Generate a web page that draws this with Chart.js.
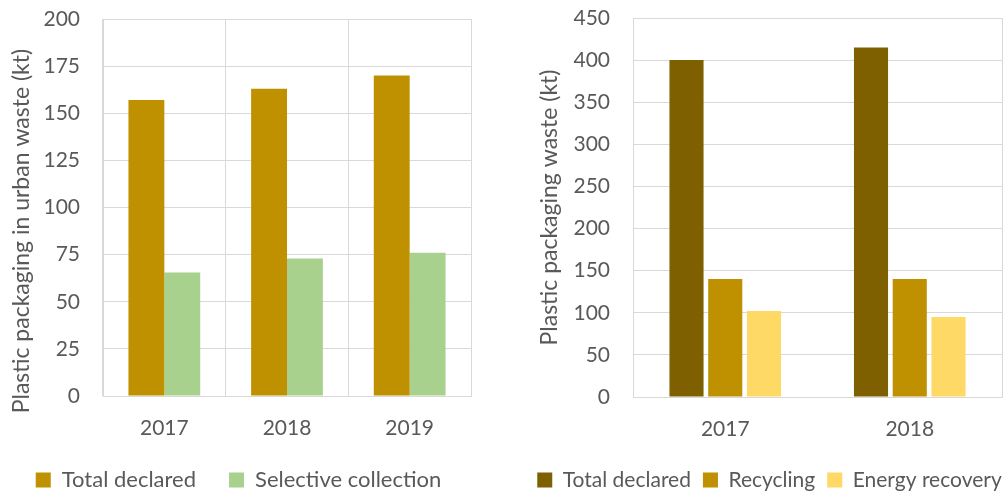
<!DOCTYPE html>
<html>
<head>
<meta charset="utf-8">
<script src="https://cdn.jsdelivr.net/npm/chart.js@4"></script>
<style>
  html, body { margin:0; padding:0; background:#fff; overflow:hidden; }
  #wrap { position:relative; width:1006px; height:500px; overflow:hidden; }
  .box { position:absolute; top:0; height:500px; }
  #left { left:0; width:477px; }
  #right { left:500px; width:530px; }
</style>
</head>
<body>
<div id="wrap">
  <div class="box" id="left"><canvas id="chart-urban"></canvas></div>
  <div class="box" id="right"><canvas id="chart-pkg"></canvas></div>
</div>
<script>
// ─── DATA ─────────────────────────────────────────────────────────────────────
const URBAN_YEARS     = ['2017', '2018', '2019'];
const URBAN_TOTAL     = [157, 163, 170];
const URBAN_SELECTIVE = [65.5, 73, 76];

const PKG_YEARS     = ['2017', '2018'];
const PKG_TOTAL     = [400, 415];
const PKG_RECYCLING = [140, 140];
const PKG_ENERGY    = [102, 95];

// ─── STYLE ────────────────────────────────────────────────────────────────────
const FONT = 'Lato, "Open Sans", sans-serif';
const TXT  = '#595959';
const GRID = '#d9d9d9';

// fixes the legend box height so item spacing and vertical spot are independent
const legendFit = {
  id: 'legendFit',
  beforeLayout(chart, args, opts) {
    const lg = chart.legend;
    if (!lg || lg._fitPatched) return;
    const orig = lg.fit;
    lg.fit = function() { orig.call(this); this.height = opts.height; };
    lg._fitPatched = true;
  }
};

function makeChart(id, cfg) {
  const ctx = document.getElementById(id).getContext('2d');
  return new Chart(ctx, {
    type: 'bar',
    data: { labels: cfg.labels, datasets: cfg.datasets },
    plugins: [legendFit],
    options: {
      responsive: true, maintainAspectRatio: false, animation: false,
      layout: { padding: cfg.padding },
      datasets: { bar: { categoryPercentage: cfg.catPct, barPercentage: cfg.barPct } },
      plugins: {
        legendFit: { height: cfg.legendH },
        tooltip: { enabled: false },
        legend: {
          position: 'bottom',
          labels: { boxWidth: 15, boxHeight: 15, padding: cfg.legendPad, color: TXT, font: { family: FONT, size: cfg.legendSize } }
        }
      },
      scales: {
        x: {
          grid: { display: cfg.xGrid, offset: true, drawTicks: false, color: GRID },
          border: { color: GRID },
          ticks: { color: TXT, padding: 20, font: { family: FONT, size: 21 } },
          afterFit: s => { s.height = cfg.xH; }
        },
        y: {
          min: 0, max: cfg.max,
          grid: { color: GRID, drawTicks: false },
          border: { color: GRID },
          ticks: { stepSize: cfg.step, color: TXT, padding: 23, font: { family: FONT, size: 21 } },
          title: { display: true, text: cfg.yTitle, color: TXT, padding: { top: cfg.titlePad, bottom: 0 }, font: { family: FONT, size: 23 } },
          afterFit: s => { s.width = cfg.yW; s.paddingTop = 0; s.paddingBottom = 0; }
        },
        // empty right axis: draws the right frame line and leaves room for the legend
        y2: {
          position: 'right',
          grid: { display: false, drawTicks: false },
          border: { display: true, color: GRID },
          ticks: { display: false },
          afterFit: s => { s.width = cfg.y2W; }
        }
      }
    }
  });
}

// ─── LEFT: urban waste ────────────────────────────────────────────────────────
makeChart('chart-urban', {
  labels: URBAN_YEARS,
  datasets: [
    { label: 'Total declared',       data: URBAN_TOTAL,     backgroundColor: '#bf9000' },
    { label: 'Selective collection', data: URBAN_SELECTIVE, backgroundColor: '#a9d18e' }
  ],
  padding: { left: 0, right: 0, top: 19, bottom: 0 },
  catPct: 0.585, barPct: 1.0,
  legendSize: 22, legendPad: 33, legendH: 64, xH: 40,
  xGrid: true,
  max: 200, step: 25,
  yTitle: 'Plastic packaging in urban waste (kt)        ',
  titlePad: 8, yW: 103, y2W: 6
});

// ─── RIGHT: plastic packaging waste ───────────────────────────────────────────
makeChart('chart-pkg', {
  labels: PKG_YEARS,
  datasets: [
    { label: 'Total declared',  data: PKG_TOTAL,     backgroundColor: '#7f6000' },
    { label: 'Recycling',       data: PKG_RECYCLING, backgroundColor: '#bf9000' },
    { label: 'Energy recovery', data: PKG_ENERGY,    backgroundColor: '#ffd966' }
  ],
  padding: { left: 9, right: 0, top: 18, bottom: 0 },
  catPct: 0.63, barPct: 0.88,
  legendSize: 21, legendPad: 12, legendH: 42.5, xH: 60.5,
  xGrid: false,
  max: 450, step: 50,
  yTitle: 'Plastic packaging waste (kt)',
  titlePad: 27, yW: 124, y2W: 28
});
</script>
</body>
</html>
